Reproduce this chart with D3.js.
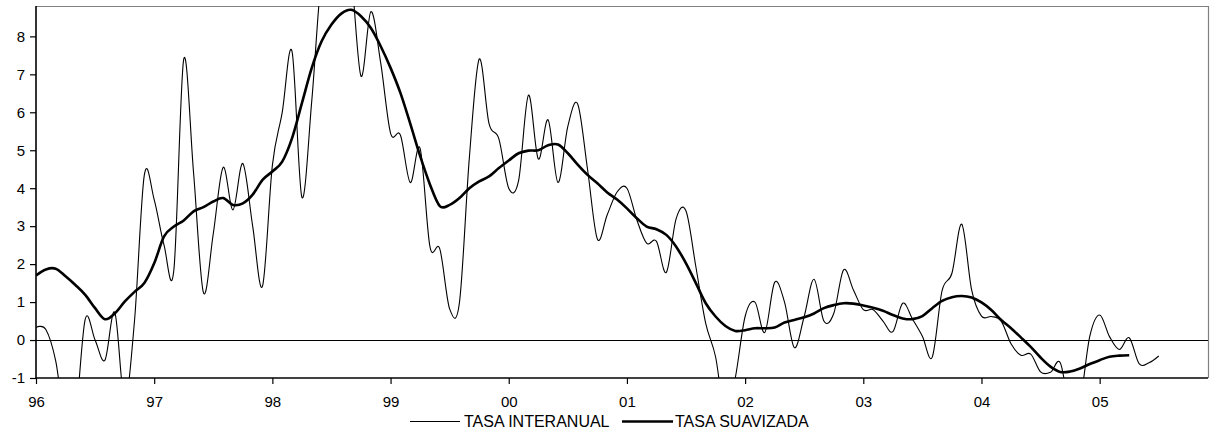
<!DOCTYPE html>
<html>
<head>
<meta charset="utf-8">
<script src="https://cdn.jsdelivr.net/npm/d3@7"></script>
<style>
  html, body { margin: 0; padding: 0; background: #fff; }
  svg { display: block; font-family: "Liberation Sans", Arial, sans-serif; }
</style>
</head>
<body>
<svg id="chart" width="1210" height="436"></svg>
<script>
// Monthly series, Jan 1996 onward
const tasaInteranual = [
  0.33, 0.28, -0.55, -2.2, -2.0, 0.55, 0.0, -0.53, 0.73, -1.6, 0.5, 4.35,
  3.7, 2.5, 1.85, 7.4, 4.4, 1.25, 2.8, 4.55, 3.43, 4.65, 3.0, 1.42,
  4.6, 6.0, 7.6, 3.76, 6.3, 9.6, 10.3, 10.4, 9.6, 6.95, 8.65, 7.3,
  5.45, 5.4, 4.15, 5.05, 2.46, 2.4, 0.82, 1.0, 4.8, 7.4, 5.7, 5.3,
  4.0, 4.2, 6.45, 4.77, 5.8, 4.15, 5.63, 6.22, 4.5, 2.66, 3.3, 3.9,
  4.0, 3.17, 2.55, 2.6, 1.78, 3.2, 3.4, 1.93, 0.44, -0.44, -2.0, -1.0,
  0.62, 1.0, 0.2, 1.52, 1.0, -0.2, 0.62, 1.6, 0.5, 0.7, 1.85, 1.32,
  0.8, 0.8, 0.5, 0.22, 0.97, 0.55, 0.1, -0.45, 1.3, 1.76, 3.05, 1.32,
  0.63, 0.62, 0.5, -0.1, -0.4, -0.37, -0.84, -0.85, -0.6, -1.8, -1.6, 0.1,
  0.66, 0.09, -0.25, 0.06, -0.62, -0.6, -0.42
];
const tasaSuavizada = [
  1.7, 1.86, 1.88, 1.68, 1.45, 1.19, 0.84, 0.55, 0.7, 1.01, 1.27, 1.5,
  2.02, 2.73, 2.99, 3.15, 3.39, 3.5, 3.65, 3.74, 3.56, 3.6, 3.83, 4.22,
  4.44, 4.7, 5.32, 6.24, 7.17, 7.87, 8.31, 8.6, 8.7, 8.53, 8.22, 7.74,
  7.17, 6.51, 5.7, 4.85, 4.1, 3.53, 3.56, 3.74, 4.0, 4.18, 4.31, 4.53,
  4.73, 4.92, 4.99, 5.0, 5.13, 5.15, 4.92, 4.62, 4.35, 4.13, 3.89, 3.7,
  3.47, 3.21, 2.99, 2.92, 2.77, 2.46, 2.02, 1.5, 0.97, 0.62, 0.37, 0.24,
  0.26, 0.31, 0.31, 0.33, 0.46, 0.53, 0.6, 0.7, 0.84, 0.92, 0.97, 0.96,
  0.91, 0.85, 0.77, 0.66, 0.57, 0.55, 0.63, 0.84, 1.03, 1.13, 1.16, 1.12,
  0.99, 0.79, 0.53, 0.31, 0.07, -0.18, -0.46, -0.7, -0.84, -0.83, -0.75, -0.63,
  -0.53, -0.44, -0.41, -0.4
];
const yearLabels = ["96", "97", "98", "99", "00", "01", "02", "03", "04", "05"];
const yTicks = [-1, 0, 1, 2, 3, 4, 5, 6, 7, 8];
const seriesNames = ["TASA INTERANUAL", "TASA SUAVIZADA"];

const svg = d3.select("#chart");
const L = 36, R = 1208, T = 6, B = 378;
const nMonths = 120;

const x = d3.scaleLinear().domain([0, nMonths - 1]).range([L, R]);
const y = d3.scaleLinear().domain([-1, 8.8]).range([B, T]);

svg.append("defs").append("clipPath").attr("id", "plotclip")
  .append("rect").attr("x", L).attr("y", T).attr("width", R - L).attr("height", B - T);

// Plot border (top/right grey)
svg.append("path")
  .attr("d", `M${L},${T + 0.5}H${R + 0.5}V${B}`)
  .attr("fill", "none").attr("stroke", "#808080").attr("stroke-width", 1.2);

// zero line
const y0 = Math.round(y(0)) + 0.5;
svg.append("line")
  .attr("x1", L).attr("x2", R).attr("y1", y0).attr("y2", y0)
  .attr("stroke", "#000").attr("stroke-width", 1);

const line = d3.line()
  .x((d, i) => x(i))
  .y(d => y(d))
  .curve(d3.curveCardinal.tension(0));

const g = svg.append("g").attr("clip-path", "url(#plotclip)");
g.append("path").datum(tasaInteranual)
  .attr("d", line).attr("fill", "none").attr("stroke", "#000").attr("stroke-width", 1.1);
g.append("path").datum(tasaSuavizada)
  .attr("d", line).attr("fill", "none").attr("stroke", "#000").attr("stroke-width", 2.6)
  .attr("stroke-linejoin", "round");

// Y axis
const yAxis = d3.axisLeft(y).tickValues(yTicks).tickSize(6).tickPadding(5).tickFormat(d => String(d));
const ya = svg.append("g").attr("transform", `translate(${L},0)`).call(yAxis);
ya.select(".domain").attr("stroke", "#000").attr("stroke-width", 1.6).attr("d", `M0,${T}V${B}`);
ya.selectAll(".tick line").attr("stroke", "#000").attr("stroke-width", 1.2);
ya.selectAll(".tick text").attr("font-size", 15).attr("fill", "#000")
  .attr("font-family", "'Liberation Sans', Arial, sans-serif");

// X axis
const xTickVals = yearLabels.map((_, k) => k * 12);
const xAxis = d3.axisBottom(x).tickValues(xTickVals).tickSize(6).tickPadding(12)
  .tickFormat((d, k) => yearLabels[k]);
const xa = svg.append("g").attr("transform", `translate(0,${B})`).call(xAxis);
xa.select(".domain").attr("stroke", "#000").attr("stroke-width", 1.6).attr("d", `M${L},0H${R}`);
xa.selectAll(".tick line").attr("stroke", "#000").attr("stroke-width", 1.2);
xa.selectAll(".tick text").attr("font-size", 15).attr("fill", "#000")
  .attr("font-family", "'Liberation Sans', Arial, sans-serif");

// Legend
const lg = svg.append("g").attr("font-size", 16).attr("font-family", "'Liberation Sans', Arial, sans-serif");
const ly = 421.5;
lg.append("line").attr("x1", 410).attr("x2", 460).attr("y1", ly).attr("y2", ly)
  .attr("stroke", "#000").attr("stroke-width", 1);
lg.append("text").attr("x", 464).attr("y", ly).attr("dy", "0.36em").text(seriesNames[0]);
lg.append("line").attr("x1", 622).attr("x2", 673).attr("y1", ly).attr("y2", ly)
  .attr("stroke", "#000").attr("stroke-width", 2.6);
lg.append("text").attr("x", 675).attr("y", ly).attr("dy", "0.36em").text(seriesNames[1]);
</script>
</body>
</html>
